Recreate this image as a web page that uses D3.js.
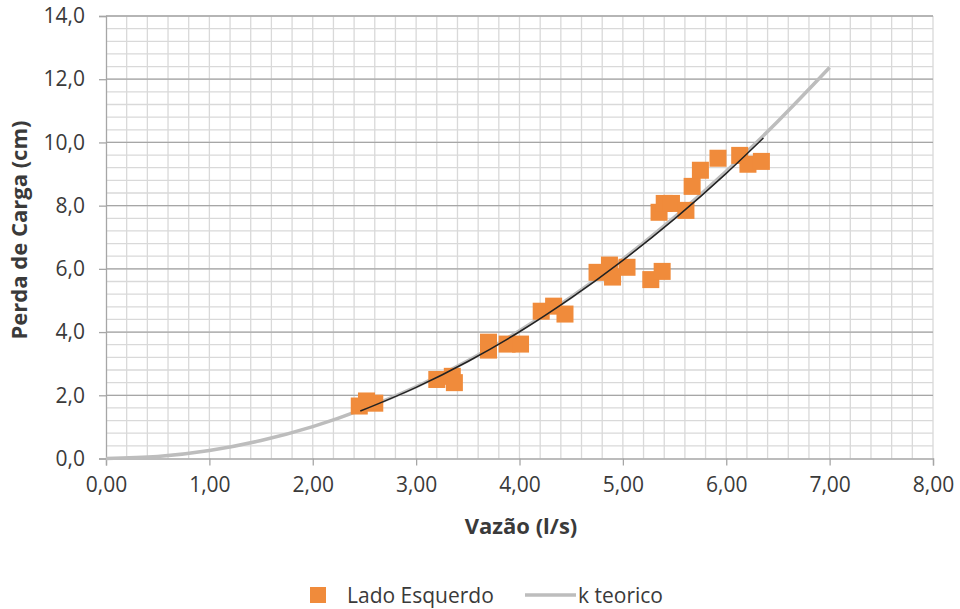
<!DOCTYPE html>
<html>
<head>
<meta charset="utf-8">
<script src="https://cdn.jsdelivr.net/npm/d3@7"></script>
<style>
  html, body { margin: 0; padding: 0; background: #fff; }
  svg { display: block; }
  text { font-family: "Open Sans", Lato, sans-serif; fill: #3a3a3a; }
</style>
</head>
<body>
<svg id="chart" width="960" height="609"></svg>
<script>
// Measured points: flow (l/s) and head loss (cm), left side
const vazao = [2.45, 2.52, 2.60, 3.20, 3.35, 3.37, 3.70, 3.70, 3.88, 4.01,
               4.21, 4.33, 4.44, 4.75, 4.87, 4.90, 5.04, 5.27, 5.38,
               5.35, 5.40, 5.47, 5.61, 5.67, 5.75, 5.92, 6.13, 6.21, 6.34];
const perda = [1.66, 1.82, 1.75, 2.50, 2.60, 2.40, 3.68, 3.43, 3.62, 3.62,
               4.66, 4.82, 4.57, 5.89, 6.12, 5.74, 6.05, 5.66, 5.92,
               7.79, 8.07, 8.07, 7.85, 8.61, 9.12, 9.50, 9.59, 9.31, 9.40];

// Theoretical curve (k teorico)
const teoricoQ = [0, 0.5, 1, 1.5, 2, 2.5, 3, 3.5, 4, 4.5, 5, 5.5, 6, 6.5, 7];
const teoricoH = [0, 0.06, 0.25, 0.57, 1.01, 1.58, 2.27, 3.09, 4.04, 5.11, 6.31, 7.64, 9.09, 10.67, 12.37];

// Fitted trend over the measurements
const ajusteQ = [2.46, 3.0, 3.5, 4.0, 4.5, 5.0, 5.5, 6.0, 6.36];
const ajusteH = [1.50, 2.25, 3.07, 4.01, 5.08, 6.27, 7.58, 9.02, 10.14];

const xTicks = [0, 1, 2, 3, 4, 5, 6, 7, 8];
const yTicks = [0, 2, 4, 6, 8, 10, 12, 14];

const svg = d3.select("#chart");
const plotL = 106, plotR = 933, plotT = 16, plotB = 458.5;

const x = d3.scaleLinear().domain([0, 8]).range([plotL, plotR]);
const y = d3.scaleLinear().domain([0, 14]).range([plotB, plotT]);

const fmtX = v => d3.format(".2f")(v).replace(".", ",");
const fmtY = v => d3.format(".1f")(v).replace(".", ",");

// Minor gridlines
const grid = svg.append("g");
grid.selectAll(".vx").data(d3.range(1, 41).map(i => i * 0.2)).join("line")
  .attr("x1", d => x(d)).attr("x2", d => x(d))
  .attr("y1", y(0)).attr("y2", y(14))
  .attr("stroke", "#d9d9d9").attr("stroke-width", 1.3);
grid.selectAll(".hy").data(d3.range(1, 36).map(i => i * 0.4)).join("line")
  .attr("x1", x(0)).attr("x2", x(8))
  .attr("y1", d => y(d)).attr("y2", d => y(d))
  .attr("stroke", "#d9d9d9").attr("stroke-width", 1.3);
// Major horizontal gridlines
grid.selectAll(".my").data(yTicks.slice(1)).join("line")
  .attr("x1", x(0)).attr("x2", x(8))
  .attr("y1", d => y(d)).attr("y2", d => y(d))
  .attr("stroke", "#a6a6a6").attr("stroke-width", 1.3);

// Axes
const xAxis = svg.append("g").attr("transform", `translate(0,${y(0)})`)
  .call(d3.axisBottom(x).tickValues(xTicks).tickFormat(fmtX).tickSize(7).tickPadding(12));
const yAxis = svg.append("g").attr("transform", `translate(${x(0)},0)`)
  .call(d3.axisLeft(y).tickValues(yTicks).tickFormat(fmtY).tickSize(7).tickPadding(14));
[xAxis, yAxis].forEach(a => {
  a.select(".domain").attr("stroke", "#a6a6a6").attr("stroke-width", 1.3);
  a.selectAll(".tick line").attr("stroke", "#a6a6a6").attr("stroke-width", 1.3);
  a.selectAll(".tick text").attr("font-size", 21).attr("fill", "#3a3a3a")
    .attr("font-family", "'Open Sans', sans-serif");
});

// Theoretical curve
const line = d3.line().curve(d3.curveMonotoneX).x(d => x(d[0])).y(d => y(d[1]));
svg.append("path")
  .datum(d3.zip(teoricoQ, teoricoH))
  .attr("d", line).attr("fill", "none")
  .attr("stroke", "#bdbdbd").attr("stroke-width", 3.5);

// Measurements
svg.append("g").selectAll("rect").data(d3.zip(vazao, perda)).join("rect")
  .attr("x", d => x(d[0]) - 8.5).attr("y", d => y(d[1]) - 8.5)
  .attr("width", 17).attr("height", 17)
  .attr("fill", "#f08b3b");

// Trend line over the measurements
svg.append("path")
  .datum(d3.zip(ajusteQ, ajusteH))
  .attr("d", line).attr("fill", "none")
  .attr("stroke", "#222").attr("stroke-width", 1.5);

// Axis titles
svg.append("text").attr("x", 521).attr("y", 534).attr("text-anchor", "middle")
  .attr("font-size", 22).attr("font-weight", "bold").text("Vazão (l/s)");
svg.append("text").attr("transform", "translate(27,230) rotate(-90)")
  .attr("text-anchor", "middle")
  .attr("font-size", 22).attr("font-weight", "bold").text("Perda de Carga (cm)");

// Legend
const lg = svg.append("g");
lg.append("rect").attr("x", 310).attr("y", 587).attr("width", 16).attr("height", 16).attr("fill", "#f08b3b");
lg.append("text").attr("x", 347).attr("y", 603).attr("font-size", 21).text("Lado Esquerdo");
lg.append("line").attr("x1", 525).attr("x2", 576).attr("y1", 595).attr("y2", 595)
  .attr("stroke", "#bdbdbd").attr("stroke-width", 3.5);
lg.append("text").attr("x", 578).attr("y", 603).attr("font-size", 21).text("k teorico");
</script>
</body>
</html>
